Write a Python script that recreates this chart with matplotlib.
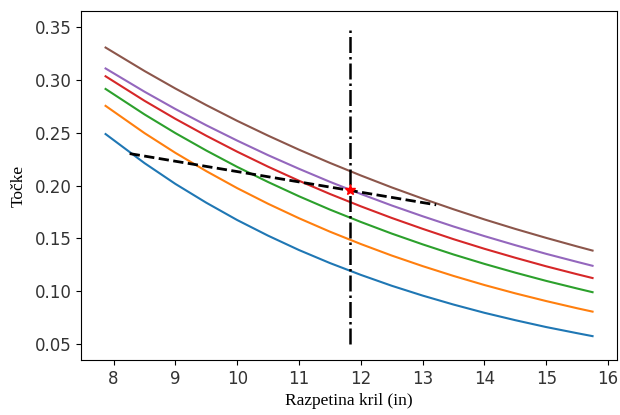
import matplotlib
matplotlib.use("Agg")
import matplotlib.pyplot as plt


OUTPUT_PATH = "out.png"

# wingspan in inches (20 cm .. 40 cm)
wingspan = [7.87, 8.5, 9.0, 9.5, 10.0, 10.5, 11.0, 11.5, 12.0,
            12.5, 13.0, 13.5, 14.0, 14.5, 15.0, 15.5, 15.75]

# points for each curve
curve_1 = [0.2487, 0.2212, 0.2015, 0.1837, 0.1673, 0.1525, 0.1389, 0.1266, 0.1154,
           0.1051, 0.0958, 0.0873, 0.0795, 0.0725, 0.0660, 0.0602, 0.0574]
curve_2 = [0.2754, 0.2496, 0.2309, 0.2136, 0.1975, 0.1827, 0.1690, 0.1563, 0.1446,
           0.1337, 0.1237, 0.1144, 0.1058, 0.0979, 0.0906, 0.0838, 0.0806]
curve_3 = [0.2914, 0.2673, 0.2496, 0.2331, 0.2176, 0.2033, 0.1898, 0.1772, 0.1655,
           0.1545, 0.1443, 0.1347, 0.1258, 0.1175, 0.1097, 0.1025, 0.0990]
curve_4 = [0.3034, 0.2802, 0.2631, 0.2471, 0.2320, 0.2178, 0.2045, 0.1920, 0.1803,
           0.1693, 0.1590, 0.1492, 0.1401, 0.1316, 0.1235, 0.1160, 0.1124]
curve_5 = [0.3108, 0.2888, 0.2724, 0.2570, 0.2425, 0.2287, 0.2158, 0.2035, 0.1920,
           0.1811, 0.1709, 0.1612, 0.1521, 0.1435, 0.1353, 0.1277, 0.1240]
curve_6 = [0.3306, 0.3084, 0.2918, 0.2761, 0.2612, 0.2472, 0.2339, 0.2214, 0.2095,
           0.1982, 0.1876, 0.1775, 0.1679, 0.1589, 0.1504, 0.1423, 0.1384]

# dashed trade-off line and the chosen point
trend_x = [8.26, 13.22]
trend_y = [0.2302, 0.1817]
chosen_x = 11.82
chosen_y = 0.1955
vline_y = [0.05, 0.35]


def main():
    fig = plt.figure(figsize=(6.2, 4.15), dpi=100)
    ax = fig.add_axes([0.131, 0.133, 0.864, 0.840])

    for values in [curve_1, curve_2, curve_3, curve_4, curve_5, curve_6]:
        ax.plot(wingspan, values, linewidth=1.5)

    ax.plot(trend_x, trend_y, "k--", linewidth=2)
    ax.plot([chosen_x, chosen_x], vline_y, "k-.", linewidth=1.8)
    ax.plot(chosen_x, chosen_y, "r*", markersize=8)

    ax.set_xticks([8, 9, 10, 11, 12, 13, 14, 15, 16])
    ax.set_yticks([0.05, 0.10, 0.15, 0.20, 0.25, 0.30, 0.35])
    ax.tick_params(labelsize=12, labelcolor="#333333")

    ax.set_xlabel("Razpetina kril (in)", family="Liberation Serif", fontsize=12.5)
    ax.set_ylabel("Točke", family="Liberation Serif", fontsize=12.5, labelpad=6)

    fig.savefig(OUTPUT_PATH)
    plt.close(fig)


if __name__ == "__main__":
    main()
